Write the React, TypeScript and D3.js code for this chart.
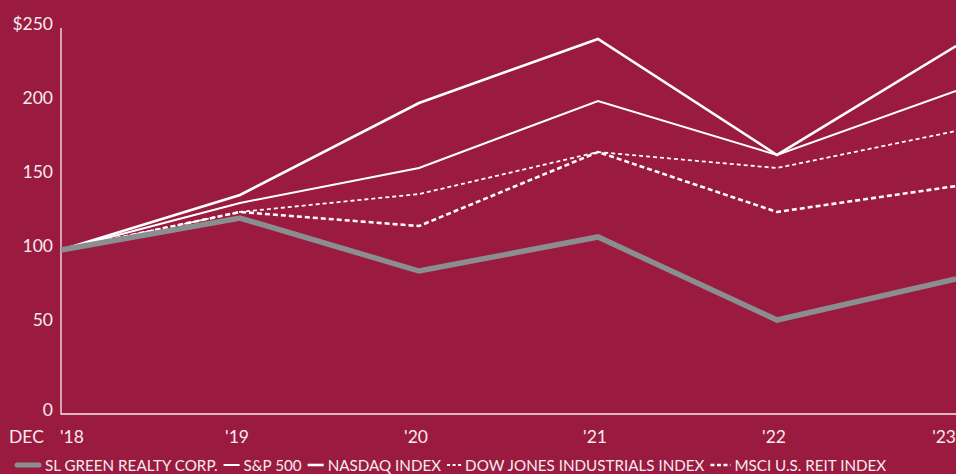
import React, { useEffect, useRef } from "react";
import * as d3 from "d3";

const years = ["'18", "'19", "'20", "'21", "'22", "'23"];
const yTicks = [0, 50, 100, 150, 200, 250];
const slGreen = [100, 121.6, 85.8, 108.8, 52.7, 80.4];
const sp500 = [100, 131.8, 155.4, 200.7, 164.2, 207.4];
const nasdaq = [100, 137.2, 199.3, 242.6, 164.2, 237.8];
const dowJones = [100, 125.7, 137.8, 166.2, 155.4, 180.4];
const msciReit = [100, 125.7, 116.2, 166.2, 125.7, 143.2];
const seriesNames = [
  "SL GREEN REALTY CORP.",
  "S&P 500",
  "NASDAQ INDEX",
  "DOW JONES INDUSTRIALS INDEX",
  "MSCI U.S. REIT INDEX",
];

const W = 956;
const H = 474;
const BG = "#9a1a40";
const TXT = "#f6ecef";
const FONT = "Lato, 'Open Sans', sans-serif";

export default function App() {
  const ref = useRef<SVGSVGElement>(null);

  useEffect(() => {
    const svg = d3.select(ref.current);
    svg.selectAll("*").remove();

    const x = d3.scalePoint<string>().domain(years).range([61, 956]);
    const y = d3.scaleLinear().domain([0, 250]).range([398, 28]);
    const baseY = 414;

    svg.append("rect").attr("width", W).attr("height", H).attr("fill", BG);

    // axes
    svg
      .append("path")
      .attr("d", `M${x(years[0])},${y(250)}V${baseY}H${W}`)
      .attr("fill", "none")
      .attr("stroke", TXT)
      .attr("stroke-width", 1.3);

    const yl = svg.append("g").attr("font-family", FONT).attr("font-size", 17.5).attr("fill", TXT);
    yTicks.forEach((t) => {
      yl.append("text")
        .attr("x", 53)
        .attr("y", t === 0 ? baseY - 5 : y(t) - 5)
        .attr("text-anchor", "end")
        .attr("dominant-baseline", "central")
        .text(t === 250 ? "$250" : String(t));
    });

    const xl = svg.append("g").attr("font-family", FONT).attr("font-size", 17.5).attr("fill", TXT);
    xl.append("text").attr("x", 9).attr("y", 436).attr("dominant-baseline", "central").text("DEC");
    years.forEach((yr, i) => {
      xl.append("text")
        .attr("x", i === 0 ? (x(yr) as number) - 1 : i === years.length - 1 ? W : (x(yr) as number) - 3)
        .attr("y", 436)
        .attr("text-anchor", i === 0 ? "start" : i === years.length - 1 ? "end" : "middle")
        .attr("dominant-baseline", "central")
        .text(yr);
    });

    const line = d3
      .line<number>()
      .x((_, i) => x(years[i]) as number)
      .y((d) => y(d));

    const styles = [
      { data: dowJones, w: 1.8, dash: "4,3", color: "#fff" },
      { data: msciReit, w: 2.6, dash: "5,3", color: "#fff" },
      { data: sp500, w: 2, dash: null, color: "#fff" },
      { data: nasdaq, w: 2.6, dash: null, color: "#fff" },
      { data: slGreen, w: 5.5, dash: null, color: "#8b8e90" },
    ];
    styles.forEach((s) => {
      svg
        .append("path")
        .attr("d", line(s.data))
        .attr("fill", "none")
        .attr("stroke", s.color)
        .attr("stroke-width", s.w)
        .attr("stroke-linejoin", "miter")
        .attr("stroke-dasharray", s.dash);
    });

    // legend
    const lg = svg.append("g").attr("font-family", FONT).attr("font-size", 15.2).attr("fill", TXT);
    const swatches = [
      { w: 5, len: 22, dash: null, color: "#8b8e90", cap: "round" },
      { w: 2, len: 16, dash: null, color: "#fff", cap: "butt" },
      { w: 2.6, len: 16, dash: null, color: "#fff", cap: "butt" },
      { w: 1.8, len: 14, dash: "3,2.5", color: "#fff", cap: "butt" },
      { w: 2.6, len: 20, dash: "4,2.5", color: "#fff", cap: "butt" },
    ];
    let cx = 17;
    const ly = 465;
    seriesNames.forEach((name, i) => {
      const s = swatches[i];
      lg.append("line")
        .attr("x1", cx)
        .attr("x2", cx + s.len)
        .attr("y1", ly)
        .attr("y2", ly)
        .attr("stroke", s.color)
        .attr("stroke-width", s.w)
        .attr("stroke-linecap", s.cap)
        .attr("stroke-dasharray", s.dash);
      const tx = cx + s.len + (i === 0 ? 6 : 4);
      const t = lg
        .append("text")
        .attr("x", tx)
        .attr("y", ly)
        .attr("dominant-baseline", "central")
        .text(name);
      const tw = (t.node() as SVGTextElement).getComputedTextLength();
      cx = tx + tw + 6;
    });
  }, []);

  return (
    <svg
      ref={ref}
      width={W}
      height={H}
      style={{ position: "absolute", left: 0, top: 0, display: "block" }}
    />
  );
}
